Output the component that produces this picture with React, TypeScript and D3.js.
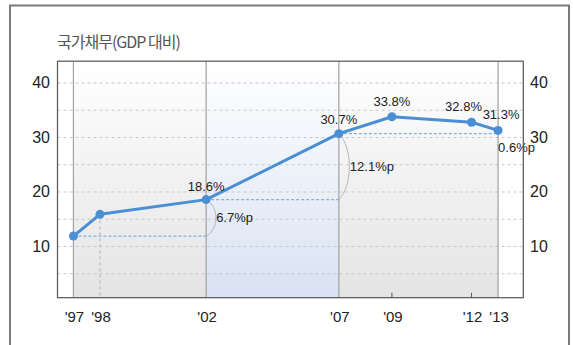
import React from "react";
import * as d3 from "d3";

// National debt as a share of GDP (%)
const years = [1997, 1998, 2002, 2007, 2009, 2012, 2013];
const yearLabels = ["'97", "'98", "'02", "'07", "'09", "'12", "'13"];
const debtRatio = [11.9, 15.9, 18.6, 30.7, 33.8, 32.8, 31.3];
const valueLabels = ["", "", "18.6%", "30.7%", "33.8%", "32.8%", "31.3%"];
const yTicks = [10, 20, 30, 40];
const gridValues = [5, 10, 15, 20, 25, 30, 35, 40];
// Change brackets: [from year, to year, label]
const changes: [number, number, string][] = [
  [1997, 2002, "6.7%p"],
  [2002, 2007, "12.1%p"],
  [2007, 2013, "0.6%p"],
];
const dividerYears = [1997, 2002, 2007, 2013];

const W = 573;
const H = 345;
const plot = { left: 57.5, right: 523.3, top: 61.2, bottom: 297.7 };

export default function App() {
  const x = d3.scaleLinear().domain([1996.4, 2013.95]).range([plot.left, plot.right]);
  const y = d3.scaleLinear().domain([0.6, 44]).range([plot.bottom, plot.top]);
  const valueOf = (yr: number) => debtRatio[years.indexOf(yr)];

  const line = d3
    .line<number>()
    .x((_, i) => x(years[i]))
    .y((d) => y(d));

  const font = "'Liberation Sans', Arial, sans-serif";
  const x97 = x(1997);
  const x02 = x(2002);
  const x07 = x(2007);
  const x13 = x(2013);

  const labelOffsets: Record<number, [number, number]> = {
    2002: [0, -9],
    2007: [0, -10],
    2009: [0, -11],
    2012: [-8, -11],
    2013: [3, -11],
  };

  const changeLabelPos: Record<string, [number, number, string]> = {
    "6.7%p": [10, 4, "start"],
    "12.1%p": [11, 4, "start"],
    "0.6%p": [0, 20, "start"],
  };

  return (
    <svg
      width={W}
      height={H}
      style={{ position: "absolute", left: 0, top: 0, background: "#fff" }}
      fontFamily={font}
    >
      <defs>
        <linearGradient id="greyBg" x1="0" y1="0" x2="0" y2="1">
          <stop offset="0" stopColor="#ffffff" />
          <stop offset="1" stopColor="#e4e4e4" />
        </linearGradient>
        <linearGradient id="blueBg" x1="0" y1="0" x2="0" y2="1">
          <stop offset="0" stopColor="#ffffff" />
          <stop offset="1" stopColor="#d9e2f3" />
        </linearGradient>
      </defs>

      {/* outer frame */}
      <rect x={10} y={5.5} width={559} height={360} fill="none" stroke="#7a7a7a" strokeWidth={2} />

      <text
        x={57}
        y={48}
        fontSize={16}
        fill="#555"
        fontFamily="'Noto Sans CJK KR', sans-serif"
        letterSpacing={-1}
      >
        국가채무(GDP 대비)
      </text>

      {/* backgrounds */}
      <rect x={x97} y={plot.top} width={x02 - x97} height={plot.bottom - plot.top} fill="url(#greyBg)" />
      <rect x={x02} y={plot.top} width={x07 - x02} height={plot.bottom - plot.top} fill="url(#blueBg)" />
      <rect x={x07} y={plot.top} width={x13 - x07} height={plot.bottom - plot.top} fill="url(#greyBg)" />

      {/* grid */}
      {gridValues.map((v) => (
        <line
          key={v}
          x1={plot.left}
          x2={plot.right}
          y1={y(v)}
          y2={y(v)}
          stroke="#c8c8c8"
          strokeDasharray="3,3"
          strokeWidth={1}
        />
      ))}

      {/* dividers */}
      {dividerYears.map((yr) => (
        <line key={yr} x1={x(yr)} x2={x(yr)} y1={plot.top} y2={plot.bottom} stroke="#a0a0a0" strokeWidth={1.2} />
      ))}
      <line
        x1={x(1998)}
        x2={x(1998)}
        y1={y(valueOf(1998))}
        y2={plot.bottom}
        stroke="#b0b0b0"
        strokeDasharray="3,3"
      />
      {[2009, 2012].map((yr) => (
        <line key={yr} x1={x(yr)} x2={x(yr)} y1={plot.bottom - 5} y2={plot.bottom} stroke="#555" />
      ))}

      {/* level guides and change brackets */}
      {changes.map(([a, b, label]) => {
        const va = valueOf(a);
        const vb = valueOf(b);
        const xa = x(a);
        const xb = x(b);
        const y0 = y(va);
        const y1 = y(vb);
        const bulge = Math.min(14, (y0 - y1) * 0.25 + 4);
        const [dx, dy, anchor] = changeLabelPos[label];
        return (
          <g key={label}>
            <line x1={xa} x2={xb} y1={y0} y2={y0} stroke="#7fb2e6" strokeWidth={1.2} strokeDasharray="3,2" />
            <path
              d={`M${xb},${y0} C${xb + bulge},${y0 - (y0 - y1) * 0.2} ${xb + bulge},${y1 + (y0 - y1) * 0.2} ${xb},${y1}`}
              fill="none"
              stroke="#b5b5b5"
              strokeWidth={1}
            />
            <text
              x={xb + dx}
              y={(y0 + y1) / 2 + dy}
              fontSize={13}
              fill="#222"
              textAnchor={anchor as any}
            >
              {label}
            </text>
          </g>
        );
      })}

      {/* plot frame */}
      <rect
        x={plot.left}
        y={plot.top}
        width={plot.right - plot.left}
        height={plot.bottom - plot.top}
        fill="none"
        stroke="#555"
        strokeWidth={1.2}
      />

      {/* series */}
      <path d={line(debtRatio) ?? ""} fill="none" stroke="#4a8ed3" strokeWidth={3} strokeLinejoin="round" />
      {debtRatio.map((v, i) => (
        <circle key={i} cx={x(years[i])} cy={y(v)} r={4.5} fill="#4a8ed3" />
      ))}
      {debtRatio.map((v, i) =>
        valueLabels[i] ? (
          <text
            key={i}
            x={x(years[i]) + labelOffsets[years[i]][0]}
            y={y(v) + labelOffsets[years[i]][1]}
            fontSize={13}
            fill="#222"
            textAnchor="middle"
          >
            {valueLabels[i]}
          </text>
        ) : null
      )}

      {/* y labels on both sides */}
      {yTicks.map((t) => (
        <g key={t}>
          <text x={50} y={y(t) + 5.5} fontSize={16} fill="#222" textAnchor="end">
            {t}
          </text>
          <text x={530} y={y(t) + 5.5} fontSize={16} fill="#222" textAnchor="start">
            {t}
          </text>
        </g>
      ))}

      {/* x labels */}
      {years.map((yr, i) => (
        <text key={yr} x={x(yr) + 1} y={322} fontSize={15} fill="#222" textAnchor="middle">
          {yearLabels[i]}
        </text>
      ))}
    </svg>
  );
}
